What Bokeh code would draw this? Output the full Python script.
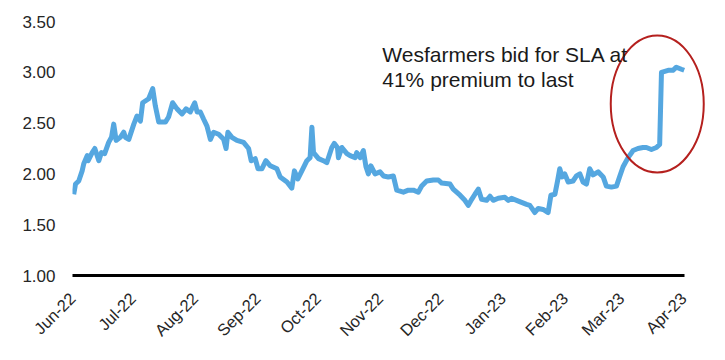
import math
from bokeh.plotting import figure
from bokeh.models import Range1d, FixedTicker, Label, NumeralTickFormatter
from bokeh.embed import file_html
from bokeh.resources import INLINE

# Days since 1 Jun 2022 and share price (A$)
days = [0.6, 1.5, 3.1, 4.8, 5.6, 7.3, 7.8, 9.8, 11.1, 13.1, 14.4, 16.0, 18.0, 19.4, 20.5,
        21.7, 23.8, 25.5, 26.3, 28.0, 30.5, 32.1, 33.8, 34.9, 37.9, 39.9, 41.2, 42.9, 46.2,
        47.8, 49.8, 52.0, 54.5, 56.5, 58.6, 60.8, 62.0, 63.6, 65.2, 66.9, 68.6, 70.2, 72.7,
        75.2, 76.4, 77.3, 79.3, 81.8, 85.1, 87.6, 88.9, 90.9, 92.3, 94.2, 96.2, 98.4, 101.7,
        103.3, 106.7, 109.1, 110.4, 112.1, 114.1, 116.6, 118.2, 119.1, 119.9, 122.4, 124.8,
        126.5, 129.0, 130.2, 131.8, 132.3, 134.0, 136.5, 138.1, 140.6, 141.4, 143.1, 144.7,
        146.0, 147.2, 148.4, 150.5, 153.0, 154.7, 157.1, 159.6, 161.3, 164.6, 167.1, 169.6,
        172.0, 173.7, 176.2, 179.5, 182.0, 183.7, 187.8, 189.4, 192.8, 195.2, 196.9, 198.6,
        200.2, 201.9, 203.5, 206.0, 207.7, 209.3, 211.8, 215.1, 216.8, 218.4, 220.9, 223.4,
        225.9, 227.5, 230.0, 231.7, 234.1, 236.6, 238.0, 240.0, 241.3, 242.4, 243.6, 244.9,
        246.6, 249.0, 250.7, 252.4, 254.0, 255.7, 257.3, 259.0, 261.5, 264.0, 265.6, 268.1,
        270.6, 272.3, 273.9, 276.4, 278.9, 281.3, 283.8, 285.5, 288.0, 290.5, 292.1, 293.0,
        296.3, 298.7, 300.4, 302.9, 304.3]
price = [1.80, 1.90, 1.93, 2.03, 2.10, 2.18, 2.13, 2.21, 2.25, 2.13, 2.21, 2.20, 2.31, 2.36, 2.49,
         2.33, 2.36, 2.41, 2.36, 2.34, 2.49, 2.57, 2.52, 2.70, 2.74, 2.84, 2.67, 2.51, 2.51,
         2.56, 2.70, 2.64, 2.59, 2.64, 2.61, 2.70, 2.61, 2.61, 2.54, 2.47, 2.34, 2.41, 2.39,
         2.34, 2.25, 2.41, 2.36, 2.33, 2.31, 2.25, 2.13, 2.15, 2.05, 2.05, 2.13, 2.08, 2.05,
         1.97, 1.92, 1.86, 2.03, 1.95, 2.03, 2.13, 2.16, 2.46, 2.21, 2.15, 2.13,
         2.11, 2.26, 2.30, 2.26, 2.16, 2.26, 2.20, 2.18, 2.16, 2.21, 2.16, 2.23,
         2.07, 2.00, 2.08, 2.00, 2.02, 1.98, 1.97, 1.98, 1.84, 1.82, 1.84, 1.84,
         1.82, 1.88, 1.93, 1.94, 1.94, 1.91, 1.90, 1.85, 1.79, 1.74, 1.69, 1.75,
         1.80, 1.85, 1.75, 1.74, 1.78, 1.74, 1.76, 1.77, 1.74, 1.76, 1.74, 1.72,
         1.70, 1.69, 1.62, 1.66, 1.65, 1.62, 1.79, 1.80, 1.93, 2.05, 1.97, 2.00,
         1.92, 1.93, 1.98, 2.00, 1.92, 1.90, 2.05, 1.99, 2.02, 1.97, 1.88, 1.87,
         1.88, 1.98, 2.07, 2.16, 2.23, 2.25, 2.26, 2.26, 2.24, 2.26, 2.29, 3.00,
         3.02, 3.02, 3.05, 3.03, 3.02]

# Month-start tick positions (days since 1 Jun 2022) and labels
month_days = [0, 30, 61, 92, 122, 153, 183, 214, 245, 273, 304]
month_labels = ["Jun-22", "Jul-22", "Aug-22", "Sep-22", "Oct-22", "Nov-22",
                "Dec-22", "Jan-23", "Feb-23", "Mar-23", "Apr-23"]
y_ticks = [1.0, 1.5, 2.0, 2.5, 3.0, 3.5]

annotation_lines = ["Wesfarmers bid for SLA at", "41% premium to last"]

FONT = "Liberation Sans"
TXT = "#262626"

AXIS_END = 304.5   # last day shown on the x axis line

p = figure(frame_width=634, frame_height=254, output_backend="svg", toolbar_location=None,
           x_range=Range1d(0, 315.4), y_range=Range1d(1.0, 3.5),
           min_border_left=72, min_border_right=10, min_border_top=21, min_border_bottom=72)
p.outline_line_color = None
p.grid.grid_line_color = None
p.background_fill_color = "white"
p.border_fill_color = "white"

p.line(days, price, line_color="#55A7E0", line_width=5, line_join="round")

# annotation ellipse around the bid jump
p.ellipse(x=[290.9], y=[2.688], width=[93], height=[137], width_units="screen",
          height_units="screen", fill_color=None, line_color="#B5201E", line_width=2)

for txt, yy in zip(annotation_lines, [3.179, 2.933]):
    p.add_layout(Label(x=154.1, y=yy, text=txt, text_font=FONT, text_font_size="21px",
                       text_color="#1a1a1a", text_baseline="alphabetic", text_align="left"))

xa = p.xaxis[0]
xa.bounds = (0, AXIS_END)
xa.ticker = FixedTicker(ticks=month_days)
xa.major_label_overrides = {d: l for d, l in zip(month_days, month_labels)}
xa.major_label_orientation = math.pi / 4
xa.axis_line_color = "black"
xa.axis_line_width = 3
xa.major_tick_line_color = None
xa.major_tick_out = 0
xa.major_tick_in = 0
xa.minor_tick_line_color = None
xa.major_label_text_font = FONT
xa.major_label_text_font_size = "16.5px"
xa.major_label_text_color = TXT
xa.major_label_standoff = 20

ya = p.yaxis[0]
ya.ticker = FixedTicker(ticks=y_ticks)
ya.formatter = NumeralTickFormatter(format="0.00")
ya.axis_line_color = None
ya.major_tick_line_color = None
ya.major_tick_out = 0
ya.major_tick_in = 0
ya.minor_tick_line_color = None
ya.major_label_text_font = FONT
ya.major_label_text_font_size = "17px"
ya.major_label_text_color = TXT
ya.major_label_standoff = 17

open("out.html", "w").write(file_html(p, INLINE))
